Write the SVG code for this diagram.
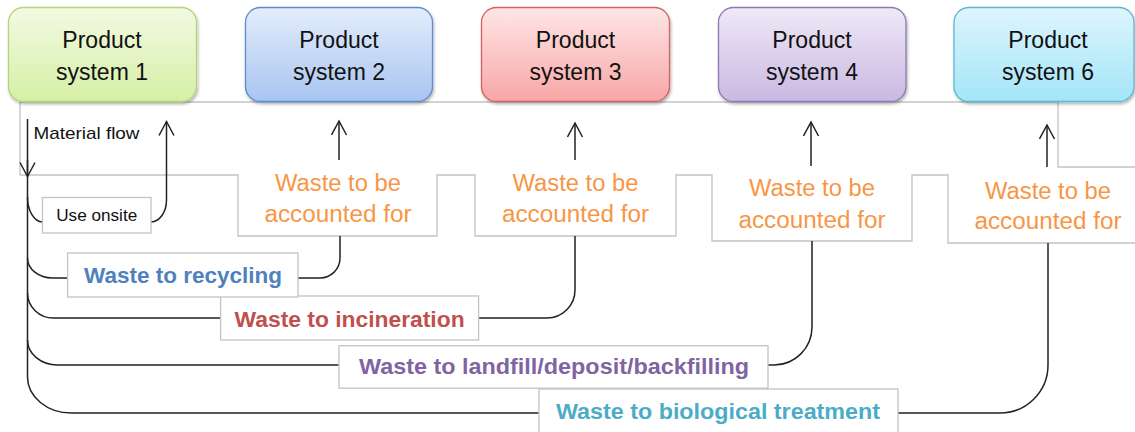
<svg xmlns="http://www.w3.org/2000/svg" width="1135" height="432" viewBox="0 0 1135 432">
<style>
.ps{font-family:"Liberation Sans",Arial,sans-serif;font-size:23px;fill:#111;text-anchor:middle}
.acc{font-family:"Liberation Sans",Arial,sans-serif;font-size:23px;fill:#f79646;text-anchor:middle}
.lab{font-family:"Liberation Sans",Arial,sans-serif;font-size:22.5px;font-weight:bold;text-anchor:middle}
.sm{font-family:"Liberation Sans",Arial,sans-serif;font-size:17px;fill:#111}
.gray{fill:none;stroke:#c3c3c3;stroke-width:1.3}
.box{fill:#fff;stroke:#c3c3c3;stroke-width:1.3}
.con{fill:none;stroke:#222;stroke-width:1.5}
</style>
<defs>
<marker id="ah" markerUnits="userSpaceOnUse" markerWidth="20" markerHeight="20" refX="15" refY="8" orient="auto" viewBox="0 0 20 20">
<path d="M1,0.5 L15,8 L1,15.5" fill="none" stroke="#222" stroke-width="1.5"/>
</marker>
<filter id="sh" x="-10%" y="-10%" width="130%" height="140%">
<feDropShadow dx="1" dy="2" stdDeviation="1.5" flood-color="#000" flood-opacity="0.3"/>
</filter>
<linearGradient id="g1" x1="0" y1="0" x2="0" y2="1"><stop offset="0" stop-color="#f3fae2"/><stop offset="1" stop-color="#d5efa6"/></linearGradient>
<linearGradient id="g2" x1="0" y1="0" x2="0" y2="1"><stop offset="0" stop-color="#e4edfc"/><stop offset="1" stop-color="#a8c5f1"/></linearGradient>
<linearGradient id="g3" x1="0" y1="0" x2="0" y2="1"><stop offset="0" stop-color="#ffe6e6"/><stop offset="1" stop-color="#f8a6a6"/></linearGradient>
<linearGradient id="g4" x1="0" y1="0" x2="0" y2="1"><stop offset="0" stop-color="#efe9f7"/><stop offset="1" stop-color="#cab8e2"/></linearGradient>
<linearGradient id="g6" x1="0" y1="0" x2="0" y2="1"><stop offset="0" stop-color="#ddf5fd"/><stop offset="1" stop-color="#a4e5f8"/></linearGradient>
</defs>

<rect width="1135" height="432" fill="#fff"/>

<g id="frame">
<path class="gray" d="M20,102 H1058 V167 H1135"/>
<path class="gray" d="M20,102 V175 H238 V236 H437 V175 H475 V236 H676 V175 H712 V241 H912 V175 H948 V243 H1135"/>
</g>

<g id="connectors">
<path class="con" d="M27.5,119 V377 A44,36 0 0 0 71.5,413 H539"/>
<path class="con" d="M27.5,160 V176.5" marker-end="url(#ah)"/>
<path class="con" d="M27.5,197 A15,25 0 0 0 42.5,222"/>
<path class="con" d="M151,222 A15.5,22 0 0 0 166.5,200 V121.5" marker-end="url(#ah)"/>
<path class="con" d="M27.5,258 A25,20 0 0 0 52.5,278 H68"/>
<path class="con" d="M298,278 H320 A20,20 0 0 0 340,258 V236"/>
<path class="con" d="M27.5,293 A26,25 0 0 0 53.5,318 H221"/>
<path class="con" d="M478.5,318 H547 A28,28 0 0 0 575,290 V236"/>
<path class="con" d="M27.5,340 A30,25 0 0 0 57.5,365 H339"/>
<path class="con" d="M768,365 H774 A38,38 0 0 0 812,327 V241"/>
<path class="con" d="M898,413 H1000 A48,48 0 0 0 1048,365 V243"/>
<path class="con" d="M339,160 V121" marker-end="url(#ah)"/>
<path class="con" d="M575,160 V123" marker-end="url(#ah)"/>
<path class="con" d="M811,166 V122" marker-end="url(#ah)"/>
<path class="con" d="M1047,167 V125" marker-end="url(#ah)"/>
<text class="sm" x="33.5" y="139.3" textLength="106" lengthAdjust="spacingAndGlyphs">Material flow</text>
</g>

<g id="ps1">
<rect x="8.5" y="7.5" width="188" height="94" rx="15" fill="url(#g1)" stroke="#b3d477" stroke-width="1.3" filter="url(#sh)"/>
<text class="ps" x="102" y="48.3">Product</text>
<text class="ps" x="102" y="80">system 1</text>
</g>
<g id="ps2">
<rect x="245.5" y="7.5" width="187" height="94" rx="15" fill="url(#g2)" stroke="#5b8bd0" stroke-width="1.3" filter="url(#sh)"/>
<text class="ps" x="339" y="48.3">Product</text>
<text class="ps" x="339" y="80">system 2</text>
</g>
<g id="ps3">
<rect x="481.5" y="7.5" width="188" height="94" rx="15" fill="url(#g3)" stroke="#d06262" stroke-width="1.3" filter="url(#sh)"/>
<text class="ps" x="575.5" y="48.3">Product</text>
<text class="ps" x="575.5" y="80">system 3</text>
</g>
<g id="ps4">
<rect x="718.5" y="7.5" width="187.5" height="94" rx="15" fill="url(#g4)" stroke="#9077b6" stroke-width="1.3" filter="url(#sh)"/>
<text class="ps" x="812" y="48.3">Product</text>
<text class="ps" x="812" y="80">system 4</text>
</g>
<g id="ps6">
<rect x="954" y="7.5" width="180" height="94" rx="15" fill="url(#g6)" stroke="#5cb7d0" stroke-width="1.3" filter="url(#sh)"/>
<text class="ps" x="1048" y="48.3">Product</text>
<text class="ps" x="1048" y="80">system 6</text>
</g>

<g id="acc2">
<text class="acc" x="338" y="190.7" textLength="126" lengthAdjust="spacingAndGlyphs">Waste to be</text>
<text class="acc" x="338" y="221.7" textLength="147" lengthAdjust="spacingAndGlyphs">accounted for</text>
</g>
<g id="acc3">
<text class="acc" x="575.5" y="190.7" textLength="126" lengthAdjust="spacingAndGlyphs">Waste to be</text>
<text class="acc" x="575.5" y="221.7" textLength="147" lengthAdjust="spacingAndGlyphs">accounted for</text>
</g>
<g id="acc4">
<text class="acc" x="812" y="196" textLength="126" lengthAdjust="spacingAndGlyphs">Waste to be</text>
<text class="acc" x="812" y="227.7" textLength="147" lengthAdjust="spacingAndGlyphs">accounted for</text>
</g>
<g id="acc6">
<text class="acc" x="1048" y="199.3" textLength="126" lengthAdjust="spacingAndGlyphs">Waste to be</text>
<text class="acc" x="1048" y="229.3" textLength="147" lengthAdjust="spacingAndGlyphs">accounted for</text>
</g>

<g id="onsite">
<rect class="box" x="42.5" y="197.5" width="108.5" height="35.5"/>
<text class="sm" x="96.7" y="220.7" text-anchor="middle" textLength="81" lengthAdjust="spacingAndGlyphs">Use onsite</text>
</g>

<g id="incineration">
<rect class="box" x="220.6" y="296" width="258" height="44"/>
<text class="lab" x="349.6" y="326.7" fill="#c0504d" textLength="230" lengthAdjust="spacingAndGlyphs">Waste to incineration</text>
</g>
<g id="recycling">
<rect class="box" x="67.6" y="253" width="230.4" height="44"/>
<text class="lab" x="183" y="283" fill="#4f81bd" textLength="198" lengthAdjust="spacingAndGlyphs">Waste to recycling</text>
</g>
<g id="landfill">
<rect class="box" x="339" y="345.7" width="429" height="42.5"/>
<text class="lab" x="554" y="374" fill="#8064a2" textLength="390" lengthAdjust="spacingAndGlyphs">Waste to landfill/deposit/backfilling</text>
</g>
<g id="biological">
<rect class="box" x="539" y="389" width="359" height="50"/>
<text class="lab" x="718" y="419.3" fill="#4bacc6" textLength="324" lengthAdjust="spacingAndGlyphs">Waste to biological treatment</text>
</g>
</svg>
